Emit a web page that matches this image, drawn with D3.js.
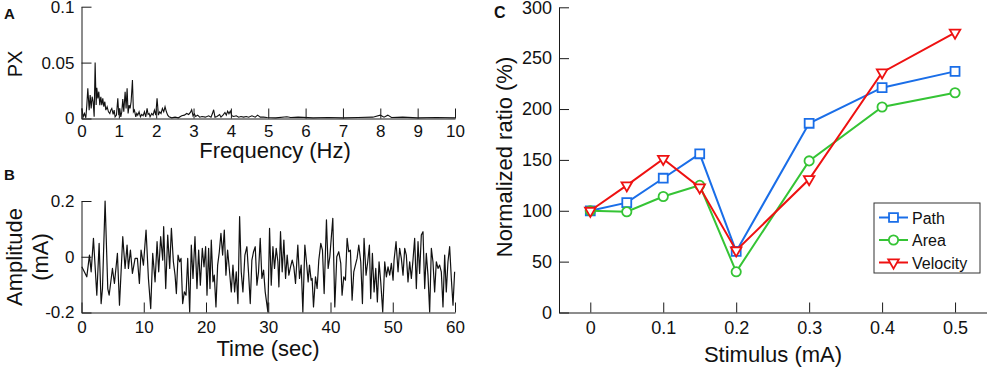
<!DOCTYPE html>
<html>
<head>
<meta charset="utf-8">
<script src="https://cdn.jsdelivr.net/npm/d3@7"></script>
<style>
  body { margin: 0; background: #fff; }
  svg { display: block; font-family: "Liberation Sans", Arial, Helvetica, sans-serif; }
</style>
</head>
<body>
<svg id="fig" width="987" height="368"></svg>
<script>
// panel A: power spectrum [Hz, PX]
const spectrum = [
  [0.01,0.009],[0.045,0.0015],[0.08,0.0045],[0.116,0.0006],[0.143,0.012],[0.169,0.027],[0.205,0.0075],[0.232,0.021],
  [0.259,0.009],[0.285,0.0195],[0.312,0.015],[0.339,0.0015],[0.365,0.05],[0.392,0.012],[0.41,0.0275],[0.437,0.018],
  [0.463,0.024],[0.49,0.012],[0.517,0.0195],[0.544,0.012],[0.57,0.018],[0.597,0.0105],[0.624,0.015],[0.651,0.0075],
  [0.686,0.0105],[0.722,0.006],[0.758,0.0045],[0.784,0.0075],[0.811,0.009],[0.847,0.0036],[0.874,0.0075],[0.9,0.0015],
  [0.936,0.003],[0.972,0.018],[0.998,0.003],[1.025,0.009],[1.052,0.0015],[1.079,0.006],[1.105,0.0173],[1.132,0.006],
  [1.168,0.024],[1.194,0.009],[1.221,0.027],[1.248,0.0045],[1.275,0.012],[1.301,0.009],[1.328,0.015],[1.364,0.0345],
  [1.39,0.006],[1.417,0.0075],[1.453,0.0015],[1.48,0.0045],[1.506,0.003],[1.542,0.006],[1.578,0.0015],[1.613,0.0036],
  [1.649,0.0024],[1.685,0.006],[1.72,0.0015],[1.756,0.009],[1.783,0.0036],[1.81,0.0045],[1.836,0.0015],[1.88,0.0045],
  [1.916,0.003],[1.952,0.0075],[1.988,0.003],[2.023,0.018],[2.059,0.003],[2.095,0.006],[2.13,0.0045],[2.166,0.009],
  [2.202,0.006],[2.237,0.0105],[2.273,0.006],[2.308,0.003],[2.344,0.0015],[2.416,0.0006],[2.505,0.0012],[2.594,0.0006],
  [2.683,0.0024],[2.754,0.003],[2.817,0.0045],[2.87,0.0036],[2.915,0.0054],[2.95,0.0078],[2.986,0.0024],[3.021,0.0042],
  [3.057,0.0018],[3.11,0.003],[3.164,0.0012],[3.226,0.0018],[3.315,0.0012],[3.405,0.0024],[3.467,0.0012],[3.503,0.0042],
  [3.538,0.0078],[3.574,0.0012],[3.627,0.0018],[3.699,0.0036],[3.734,0.0012],[3.788,0.003],[3.841,0.0054],[3.877,0.003],
  [3.913,0.0066],[3.948,0.0042],[3.984,0.0066],[4.028,0.0024],[4.073,0.0018],[4.144,0.0024],[4.207,0.0012],[4.269,0.0018],
  [4.34,0.0012],[4.412,0.0018],[4.474,0.0012],[4.563,0.0024],[4.652,0.0012],[4.715,0.003],[4.786,0.0012],[4.875,0.0012],
  [4.964,0.0009],[5.2,0.0006],[5.5,0.0015],[5.6,0.0009],[5.8,0.0012],[6.2,0.0006],[6.6,0.0009],[7.0,0.0006],
  [7.4,0.0009],[7.8,0.0012],[8.0,0.003],[8.1,0.0012],[8.2,0.003],[8.3,0.0009],[8.6,0.0012],[9.0,0.0006],
  [9.5,0.0009],[10,0.0006]
];

// panel B: stimulus amplitude [sec, mA]
const stimulusTrace = [
  [0.05,-0.036],[0.85,-0.072],[1.28,0.006],[1.55,-0.054],[1.92,0.066],[2.46,-0.138],[2.83,0.048],[3.15,-0.168],
  [3.37,-0.114],[3.79,0.2],[4.22,-0.114],[4.44,-0.138],[4.97,-0.042],[5.29,-0.096],[5.77,0.012],[6.1,-0.174],
  [6.63,0.072],[7.0,-0.042],[7.32,0.042],[7.54,-0.042],[7.86,0.024],[8.18,-0.06],[8.61,-0.006],[8.98,-0.006],
  [9.3,-0.096],[9.57,0.024],[9.95,-0.03],[10.37,0.096],[10.75,-0.078],[11.12,-0.186],[11.44,0.012],[11.82,-0.09],
  [12.14,0.054],[12.4,-0.054],[12.72,0.072],[13.05,-0.012],[13.2,0.108],[13.53,-0.114],[13.85,0.078],[14.17,-0.042],
  [14.44,0.102],[14.76,-0.018],[15.03,-0.066],[15.24,-0.132],[15.51,0.006],[15.77,-0.018],[15.99,-0.006],[16.25,-0.168],
  [16.52,-0.126],[16.79,-0.138],[17.06,-0.006],[17.38,-0.198],[17.64,0.042],[17.91,-0.078],[18.23,0.072],[18.55,-0.114],
  [18.82,0.024],[19.09,-0.102],[19.41,0.03],[19.68,-0.036],[19.94,0.036],[20.16,-0.138],[20.42,0.03],[20.64,-0.114],
  [20.85,0.06],[21.12,-0.09],[21.33,-0.066],[21.6,-0.18],[21.87,-0.03],[22.14,0.018],[22.4,0.084],[22.67,0.006],
  [22.94,0.096],[23.2,-0.066],[23.47,0.024],[23.74,-0.042],[24.06,-0.126],[24.33,-0.03],[24.6,-0.126],[24.86,-0.054],
  [25.13,-0.168],[25.4,0.144],[25.66,-0.054],[25.93,-0.126],[26.25,0.006],[26.57,0.036],[26.84,-0.06],[27.11,-0.168],
  [27.37,-0.012],[27.64,0.018],[27.91,0.036],[28.18,-0.102],[28.44,-0.054],[28.71,0.066],[28.98,-0.078],[29.25,-0.048],
  [29.51,-0.126],[29.94,-0.198],[30.21,0.102],[30.48,-0.102],[30.75,0.036],[31.01,-0.042],[31.28,0.03],[31.55,-0.018],
  [31.71,-0.108],[31.97,0.09],[32.24,-0.054],[32.51,0.06],[32.78,-0.078],[33.04,0.006],[33.31,-0.066],[33.58,-0.036],
  [33.85,-0.012],[34.11,-0.036],[34.38,-0.096],[34.75,0.042],[35.02,-0.078],[35.29,-0.03],[35.56,-0.198],[35.88,0.042],
  [36.14,-0.018],[36.41,-0.09],[36.62,-0.03],[36.89,-0.084],[37.05,-0.078],[37.27,-0.18],[37.59,-0.072],[37.85,-0.114],
  [38.12,-0.012],[38.44,0.048],[38.71,0.024],[38.98,-0.132],[39.35,0.132],[39.62,-0.042],[39.89,0.0],[40.37,0.138],
  [40.69,-0.18],[41.01,0.0],[41.33,0.018],[41.65,-0.024],[41.86,-0.138],[42.13,-0.072],[42.4,-0.084],[42.67,0.066],
  [42.93,0.018],[43.2,0.024],[43.47,-0.156],[43.74,-0.054],[44.0,-0.03],[44.27,-0.006],[44.54,0.042],[44.86,-0.018],
  [45.13,-0.168],[45.39,0.066],[45.71,-0.066],[45.98,-0.018],[46.25,0.042],[46.46,-0.15],[46.73,0.012],[47.0,-0.126],
  [47.27,-0.042],[47.53,-0.162],[47.8,-0.018],[48.07,-0.09],[48.39,-0.198],[48.71,-0.018],[48.98,-0.072],[49.24,-0.036],
  [49.51,-0.066],[49.78,-0.024],[50.05,-0.084],[50.21,-0.012],[50.53,0.054],[50.85,-0.054],[51.11,0.03],[51.38,-0.006],
  [51.65,-0.066],[51.92,0.03],[52.18,0.006],[52.45,-0.09],[52.72,-0.018],[52.99,-0.078],[53.25,-0.012],[53.52,0.066],
  [53.79,-0.114],[54.06,0.054],[54.32,-0.06],[54.59,0.078],[54.86,0.09],[55.13,-0.114],[55.39,0.012],[55.66,-0.066],
  [55.93,-0.198],[56.2,0.03],[56.46,-0.018],[56.73,-0.126],[57.0,-0.018],[57.27,-0.042],[57.53,-0.03],[57.8,-0.054],
  [58.07,-0.18],[58.34,0.006],[58.6,-0.126],[58.87,-0.018],[59.14,0.036],[59.41,-0.078],[59.68,-0.174],[59.94,-0.054]
];

// panel C
const stimulus = [0, 0.05, 0.1, 0.15, 0.2, 0.3, 0.4, 0.5];
const pathRatio = [100, 108, 132, 156, 60, 186, 221, 237];
const areaRatio = [100, 99, 114, 125, 40, 149, 202, 216];
const velocityRatio = [100, 125, 151, 123, 61, 131, 236, 275];
const seriesNames = ['Path', 'Area', 'Velocity'];

const freqTicks = d3.range(0, 11);
const pxTicks = [0, 0.05, 0.1];
const pxTickLabels = ['0', '0.05', '0.1'];
const timeTicks = [0, 10, 20, 30, 40, 50, 60];
const ampTicks = [-0.2, 0, 0.2];
const ampTickLabels = ['-0.2', '0', '0.2'];
const stimTicks = [0, 0.1, 0.2, 0.3, 0.4, 0.5];
const stimTickLabels = ['0', '0.1', '0.2', '0.3', '0.4', '0.5'];
const ratioTicks = [0, 50, 100, 150, 200, 250, 300];

const ink = '#1a1a1a';
const svg = d3.select('#fig');

const styleAxis = (g, fs) => {
  g.attr('font-family', null).attr('font-size', fs);
  g.select('.domain').attr('stroke', ink).attr('stroke-width', 1);
  g.selectAll('.tick line').attr('stroke', ink).attr('stroke-width', 1);
  g.selectAll('.tick text').attr('fill', '#111');
};

const label = (x, y, txt, opts = {}) => svg.append('text')
  .attr('x', x).attr('y', y)
  .attr('text-anchor', opts.anchor || 'middle')
  .attr('font-size', opts.size || 22)
  .attr('font-weight', opts.weight || 'normal')
  .attr('transform', opts.rotate ? `rotate(-90,${x},${y})` : null)
  .attr('fill', '#111')
  .text(txt);

// ---------- panel A ----------
const xA = d3.scaleLinear().domain([0, 10]).range([81.5, 455]);
const yA = d3.scaleLinear().domain([0, 0.1]).range([118.5, 6.7]);

svg.append('path')
  .datum(spectrum)
  .attr('fill', 'none')
  .attr('stroke', '#111')
  .attr('stroke-width', 1.1)
  .attr('d', d3.line().x((d) => xA(d[0])).y((d) => yA(d[1])));

svg.append('g')
  .attr('transform', `translate(0,${yA(0)})`)
  .call(d3.axisBottom(xA).tickValues(freqTicks).tickSize(-10).tickSizeOuter(0).tickPadding(6))
  .call((g) => styleAxis(g, 17));
svg.append('g')
  .attr('transform', `translate(${xA(0)},0)`)
  .call(d3.axisLeft(yA).tickValues(pxTicks).tickFormat((d, i) => pxTickLabels[i])
    .tickSize(-10).tickSizeOuter(0).tickPadding(7))
  .call((g) => styleAxis(g, 17));

label(275, 158, 'Frequency (Hz)');
label(22, 64, 'PX', { rotate: true, size: 20 });
label(4, 19, 'A', { anchor: 'start', size: 15, weight: 'bold' });

// ---------- panel B ----------
const xB = d3.scaleLinear().domain([0, 60]).range([81.5, 455]);
const yB = d3.scaleLinear().domain([-0.2, 0.2]).range([312.5, 201]);

svg.append('path')
  .datum(stimulusTrace)
  .attr('fill', 'none')
  .attr('stroke', '#111')
  .attr('stroke-width', 1.2)
  .attr('stroke-linejoin', 'round')
  .attr('d', d3.line().x((d) => xB(d[0])).y((d) => yB(d[1])));

svg.append('g')
  .attr('transform', `translate(0,${yB(-0.2)})`)
  .call(d3.axisBottom(xB).tickValues(timeTicks).tickSize(-10).tickSizeOuter(0).tickPadding(8))
  .call((g) => styleAxis(g, 17));
svg.append('g')
  .attr('transform', `translate(${xB(0)},0)`)
  .call(d3.axisLeft(yB).tickValues(ampTicks).tickFormat((d, i) => ampTickLabels[i])
    .tickSize(-10).tickSizeOuter(0).tickPadding(7))
  .call((g) => styleAxis(g, 17));

label(268, 356, 'Time (sec)');
label(22, 257, 'Amplitude', { rotate: true });
label(48, 257, '(mA)', { rotate: true });
label(4, 180, 'B', { anchor: 'start', size: 15, weight: 'bold' });

// ---------- panel C ----------
const xC = d3.scaleLinear().domain([-0.0429, 0.5438]).range([559, 987]);
const yC = d3.scaleLinear().domain([0, 300]).range([312.5, 7.3]);

svg.append('g')
  .attr('transform', `translate(0,${yC(0)})`)
  .call(d3.axisBottom(xC).tickValues(stimTicks).tickFormat((d, i) => stimTickLabels[i])
    .tickSize(-10).tickSizeOuter(0).tickPadding(9))
  .call((g) => styleAxis(g, 18));
svg.append('g')
  .attr('transform', `translate(${xC.range()[0]},0)`)
  .call(d3.axisLeft(yC).tickValues(ratioTicks).tickSize(-10).tickSizeOuter(0).tickPadding(7))
  .call((g) => styleAxis(g, 18));

const series = [
  { name: seriesNames[0], values: pathRatio, color: '#1a6ee8', symbol: d3.symbolSquare, size: 80, rot: 0 },
  { name: seriesNames[1], values: areaRatio, color: '#35c435', symbol: d3.symbolCircle, size: 68, rot: 0 },
  { name: seriesNames[2], values: velocityRatio, color: '#ee1111', symbol: d3.symbolTriangle, size: 48, rot: 180 },
];

const lineC = d3.line().x((d) => xC(d[0])).y((d) => yC(d[1]));

series.forEach((s) => {
  const pts = stimulus.map((x, i) => [x, s.values[i]]);
  svg.append('path')
    .datum(pts)
    .attr('fill', 'none')
    .attr('stroke', s.color)
    .attr('stroke-width', 2)
    .attr('d', lineC);
  svg.append('g')
    .selectAll('path')
    .data(pts)
    .join('path')
    .attr('d', d3.symbol().type(s.symbol).size(s.size))
    .attr('transform', (d) => `translate(${xC(d[0])},${yC(d[1])}) rotate(${s.rot})`)
    .attr('fill', '#fff')
    .attr('stroke', s.color)
    .attr('stroke-width', 1.8);
});

// legend
const legend = svg.append('g').attr('transform', 'translate(874,203)');
legend.append('rect')
  .attr('width', 106).attr('height', 70)
  .attr('fill', '#fff').attr('stroke', '#333').attr('stroke-width', 1);
series.forEach((s, i) => {
  const ly = 14.5 + i * 22.5;
  legend.append('line')
    .attr('x1', 5).attr('x2', 34).attr('y1', ly).attr('y2', ly)
    .attr('stroke', s.color).attr('stroke-width', 2);
  legend.append('path')
    .attr('d', d3.symbol().type(s.symbol).size(s.size))
    .attr('transform', `translate(19.5,${ly}) rotate(${s.rot})`)
    .attr('fill', '#fff').attr('stroke', s.color).attr('stroke-width', 1.8);
  legend.append('text')
    .attr('x', 38).attr('y', ly + 6)
    .attr('font-size', 16).attr('fill', '#111')
    .text(s.name);
});

label(773, 362, 'Stimulus (mA)');
label(512, 157, 'Normalized ratio (%)', { rotate: true });
label(494, 18, 'C', { anchor: 'start', size: 16, weight: 'bold' });
</script>
</body>
</html>
